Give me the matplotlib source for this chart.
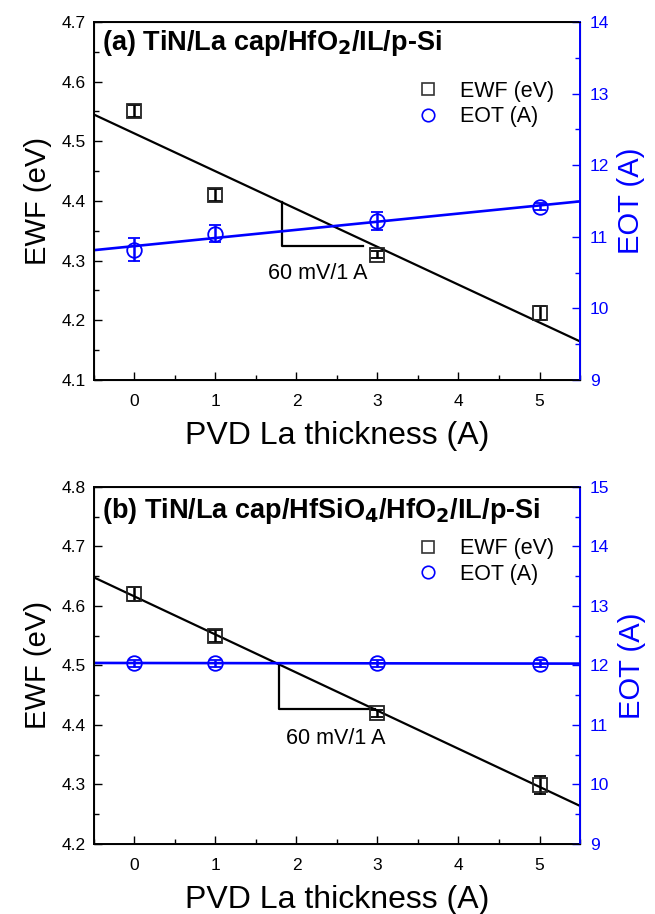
import numpy as np
import matplotlib
matplotlib.use('Agg')
import matplotlib.pyplot as plt
from matplotlib.lines import Line2D
from matplotlib.ticker import MultipleLocator

plt.rcParams['font.family'] = ['Liberation Sans', 'DejaVu Sans']

# PVD La thickness (A)
thk = [0, 1, 3, 5]

# panel (a) TiN/La cap/HfO2/IL/p-Si
ewf_a = [4.55, 4.41, 4.31, 4.212]
ewf_a_err = [0.010, 0.010, 0.006, 0.012]
eot_a = [10.82, 11.04, 11.22, 11.42]
eot_a_err = [0.16, 0.12, 0.13, 0.05]

# panel (b) TiN/La cap/HfSiO4/HfO2/IL/p-Si
ewf_b = [4.62, 4.549, 4.42, 4.299]
ewf_b_err = [0.012, 0.010, 0.006, 0.015]
eot_b = [12.04, 12.04, 12.04, 12.03]
eot_b_err = [0.06, 0.06, 0.06, 0.06]

BLUE = '#0000ff'


def panel(rect, title, ewf, ewf_err, eot, eot_err, ylim_l, ylim_r, tri, txt, ty, ly):
    ax = fig.add_axes(rect)
    ax2 = ax.twinx()
    xs = np.array([-0.5, 5.5])
    # EWF
    ax.errorbar(thk, ewf, yerr=ewf_err, fmt='s', mfc='none', mec='#222222', ms=9.5,
                mew=1.3, ecolor='black', elinewidth=1.8, capsize=4.5, capthick=2, zorder=3)
    k, b = np.polyfit(thk, ewf, 1)
    ax.plot(xs, k * xs + b, color='black', lw=1.6, zorder=2)
    # EOT
    ax2.errorbar(thk, eot, yerr=eot_err, fmt='o', mfc='none', mec=BLUE, ms=10.5,
                 mew=1.3, ecolor=BLUE, elinewidth=1.8, capsize=4.5, capthick=2, zorder=3)
    k2, b2 = np.polyfit(thk, eot, 1)
    ax2.plot(xs, k2 * xs + b2, color=BLUE, lw=1.9, zorder=2)
    # slope triangle
    x0, x1, ylow = tri
    ax.plot([x0, x0, x1], [k * x0 + b, ylow, ylow], color='black', lw=1.6)
    ax.text(txt[0], txt[1], '60 mV/1 A', ha='center', va='center', fontsize=15.5)

    ax.set_xlim(-0.5, 5.5)
    ax.set_ylim(*ylim_l)
    ax2.set_ylim(*ylim_r)
    ax.xaxis.set_major_locator(MultipleLocator(1))
    ax.xaxis.set_minor_locator(MultipleLocator(0.5))
    ax.yaxis.set_major_locator(MultipleLocator(0.1))
    ax.yaxis.set_minor_locator(MultipleLocator(0.05))
    ax2.yaxis.set_major_locator(MultipleLocator(1))
    ax2.yaxis.set_minor_locator(MultipleLocator(0.5))
    ax.tick_params(which='both', direction='in', labelsize=12.5, top=False, right=False)
    ax.tick_params(which='major', length=6, width=1)
    ax.tick_params(which='minor', length=3.5, width=1)
    ax.tick_params(axis='x', pad=10)
    ax.tick_params(axis='y', pad=6)
    ax2.tick_params(which='both', direction='in', colors=BLUE, labelsize=12.5, pad=7)
    ax2.tick_params(which='major', length=6, width=1)
    ax2.tick_params(which='minor', length=3.5, width=1)
    ax2.spines['right'].set_color(BLUE)
    ax2.spines['right'].set_linewidth(1.4)
    for s in ['left', 'bottom', 'top']:
        ax.spines[s].set_linewidth(1.4)
    ax.set_xlabel('PVD La thickness (A)', fontsize=23, labelpad=9)
    ax.set_ylabel('EWF (eV)', fontsize=21, labelpad=7)
    ax2.set_ylabel('EOT (A)', fontsize=21, color=BLUE, labelpad=6)
    ax.text(0.016, ty, title, transform=ax.transAxes, fontsize=19.5,
            fontweight='bold', va='center', ha='left')
    h = [Line2D([], [], ls='none', marker='s', mfc='none', mec='#333333', ms=8.5, mew=1.2),
         Line2D([], [], ls='none', marker='o', mfc='none', mec=BLUE, ms=9, mew=1.2)]
    ax.legend(h, ['EWF (eV)', 'EOT (A)'], loc='upper left', bbox_to_anchor=(0.665, ly),
              frameon=False, fontsize=15.5, borderpad=0, borderaxespad=0,
              handlelength=1.0, handletextpad=1.0, labelspacing=0.2)
    return ax, ax2


fig = plt.figure(figsize=(6.55, 9.14), dpi=100)
panel([0.1435, 0.5843, 0.742, 0.3917], r'(a) TiN/La cap/HfO$_\mathbf{2}$/IL/p-Si',
      ewf_a, ewf_a_err, eot_a, eot_a_err, (4.1, 4.7), (9, 14),
      (1.82, 2.82, 4.325), (2.26, 4.278), 0.94, 0.835)
panel([0.1435, 0.0766, 0.742, 0.3906], r'(b) TiN/La cap/HfSiO$_\mathbf{4}$/HfO$_\mathbf{2}$/IL/p-Si',
      ewf_b, ewf_b_err, eot_b, eot_b_err, (4.2, 4.8), (9, 15),
      (1.78, 2.97, 4.427), (2.49, 4.378), 0.932, 0.856)
fig.savefig('out.png', dpi=100)
